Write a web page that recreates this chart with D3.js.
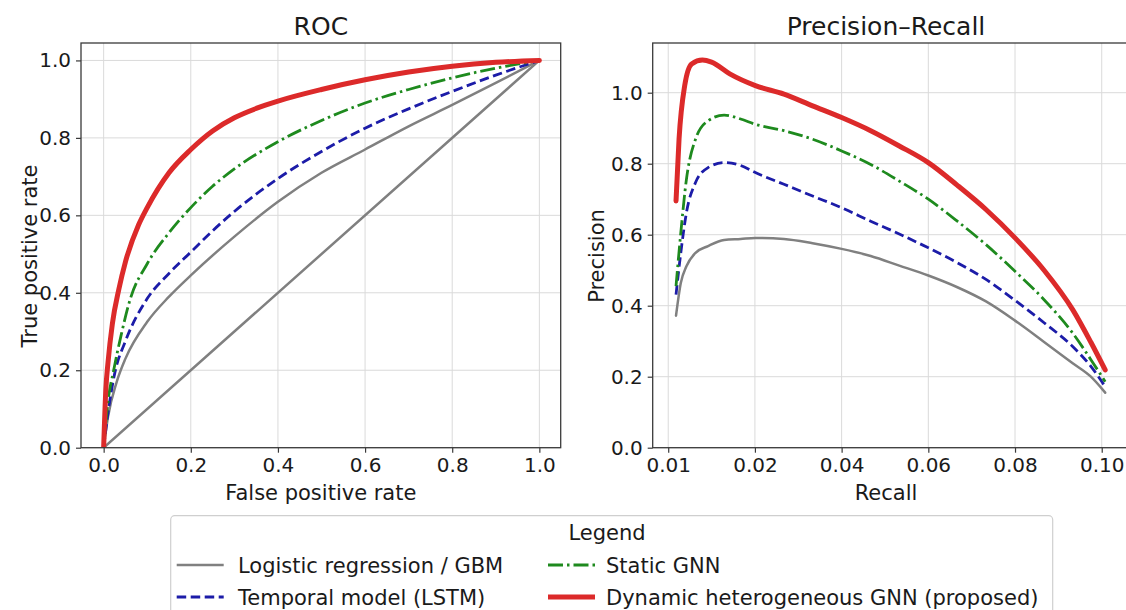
<!DOCTYPE html>
<html>
<head>
<meta charset="utf-8">
<script src="https://cdn.jsdelivr.net/npm/d3@7"></script>
<style>
  body { margin: 0; background: #fff; }
  text { font-family: "DejaVu Sans", sans-serif; fill: #1a1a1a; }
</style>
</head>
<body>
<script>
// series names (legend order)
var seriesNames = ["Logistic regression / GBM", "Temporal model (LSTM)", "Static GNN", "Dynamic heterogeneous GNN (proposed)"];

// ROC curves (false positive rate, true positive rate)
var rocGrayX = [0, 0.01, 0.03, 0.05, 0.1, 0.15, 0.2, 0.3, 0.4, 0.5, 0.6, 0.7, 0.8, 0.9, 1];
var rocGrayY = [0, 0.08, 0.17, 0.23, 0.325, 0.39, 0.445, 0.545, 0.635, 0.71, 0.77, 0.83, 0.885, 0.942, 1];
var rocBlueX = [0, 0.01, 0.025, 0.05, 0.1, 0.15, 0.2, 0.25, 0.3, 0.4, 0.5, 0.6, 0.7, 0.8, 0.9, 1];
var rocBlueY = [0, 0.09, 0.19, 0.275, 0.385, 0.45, 0.505, 0.56, 0.61, 0.695, 0.765, 0.825, 0.875, 0.92, 0.962, 1];
var rocGreenX = [0, 0.01, 0.023, 0.04, 0.06, 0.1, 0.15, 0.2, 0.25, 0.3, 0.4, 0.5, 0.6, 0.7, 0.8, 0.9, 1];
var rocGreenY = [0, 0.12, 0.2, 0.29, 0.38, 0.475, 0.555, 0.62, 0.675, 0.72, 0.79, 0.845, 0.89, 0.925, 0.955, 0.98, 1];
var rocRedX = [0, 0.005, 0.01, 0.02, 0.035, 0.05, 0.08, 0.1, 0.15, 0.2, 0.25, 0.3, 0.35, 0.4, 0.5, 0.6, 0.7, 0.8, 0.9, 1];
var rocRedY = [0, 0.15, 0.22, 0.32, 0.41, 0.48, 0.575, 0.62, 0.71, 0.77, 0.818, 0.852, 0.876, 0.895, 0.925, 0.95, 0.97, 0.985, 0.995, 1];
var rocChanceX = [0, 1];
var rocChanceY = [0, 1];

// PR curves (recall, precision)
var prX = [0.0018, 0.0029, 0.0042, 0.0063, 0.0092, 0.0129, 0.0167, 0.0201, 0.0267, 0.0333, 0.04, 0.0467, 0.0533, 0.06, 0.0667, 0.0733, 0.08, 0.0867, 0.0933, 0.0975, 0.1008];
var prGrayY = [0.372, 0.464, 0.511, 0.549, 0.568, 0.585, 0.588, 0.591, 0.588, 0.576, 0.56, 0.54, 0.513, 0.485, 0.452, 0.412, 0.358, 0.298, 0.238, 0.2, 0.155];
var prBlueY = [0.431, 0.549, 0.662, 0.747, 0.789, 0.803, 0.795, 0.775, 0.742, 0.709, 0.676, 0.638, 0.602, 0.563, 0.521, 0.474, 0.415, 0.352, 0.285, 0.229, 0.172];
var prGreenY = [0.455, 0.605, 0.756, 0.869, 0.921, 0.937, 0.926, 0.911, 0.893, 0.869, 0.836, 0.798, 0.751, 0.70, 0.638, 0.572, 0.497, 0.417, 0.323, 0.248, 0.186];
var prRedX = [0.0018, 0.0025, 0.0038, 0.0054, 0.0079, 0.01, 0.0142, 0.0201, 0.0267, 0.0333, 0.04, 0.0467, 0.0533, 0.06, 0.0667, 0.0733, 0.08, 0.0867, 0.0933, 0.0975, 0.1008];
var prRedY = [0.695, 0.87, 1.02, 1.081, 1.092, 1.086, 1.053, 1.02, 0.996, 0.963, 0.93, 0.893, 0.85, 0.803, 0.739, 0.671, 0.591, 0.5, 0.389, 0.297, 0.219];

// ticks
var rocTicks = [0, 0.2, 0.4, 0.6, 0.8, 1.0];
var prXTicks = [0, 0.02, 0.04, 0.06, 0.08, 0.10];
var prXTickLabels = ["0.01", "0.02", "0.04", "0.06", "0.08", "0.10"];
var prYTicks = [0, 0.2, 0.4, 0.6, 0.8, 1.0];

var styles = [
  {color: "#808080", width: 2.5, dash: null},
  {color: "#1c1ca8", width: 2.8, dash: "9.5,4.5"},
  {color: "#1e8a1e", width: 2.8, dash: "15,4,2.5,4"},
  {color: "#dc2a2a", width: 5, dash: null}
];

var svg = d3.select("body").append("svg")
    .attr("width", 1126)
    .attr("height", 610);

function zip(xs, ys) {
  return xs.map(function(x, i) { return [x, ys[i]]; });
}

function drawPanel(opt) {
  var x = d3.scaleLinear().domain(opt.xDomain).range([opt.left, opt.right]);
  var y = d3.scaleLinear().domain(opt.yDomain).range([opt.bottom, opt.top]);
  var g = svg.append("g");

  g.append("clipPath").attr("id", opt.id + "-clip")
    .append("rect")
      .attr("x", opt.left).attr("y", opt.top)
      .attr("width", opt.right - opt.left).attr("height", opt.bottom - opt.top);

  // grid
  g.selectAll(".vg").data(opt.xTicks).enter().append("line")
    .attr("x1", function(d) { return x(d); }).attr("x2", function(d) { return x(d); })
    .attr("y1", opt.top).attr("y2", opt.bottom)
    .style("stroke", "#dadada").style("stroke-width", 1);
  g.selectAll(".hg").data(opt.yTicks).enter().append("line")
    .attr("y1", function(d) { return y(d); }).attr("y2", function(d) { return y(d); })
    .attr("x1", opt.left).attr("x2", opt.right)
    .style("stroke", "#dadada").style("stroke-width", 1);

  // curves
  var line = d3.line()
    .x(function(d) { return x(d[0]); })
    .y(function(d) { return y(d[1]); })
    .curve(d3.curveMonotoneX);
  var plot = g.append("g").attr("clip-path", "url(#" + opt.id + "-clip)");
  opt.series.forEach(function(s) {
    var st = styles[s.style];
    plot.append("path")
      .datum(s.points)
      .attr("d", line)
      .style("fill", "none")
      .style("stroke", st.color)
      .style("stroke-width", st.width)
      .style("stroke-dasharray", st.dash)
      .style("stroke-linejoin", "round")
      .style("stroke-linecap", st.dash ? "butt" : "round");
  });

  // frame
  g.append("rect")
    .attr("x", opt.left).attr("y", opt.top)
    .attr("width", opt.right - opt.left).attr("height", opt.bottom - opt.top)
    .style("fill", "none").style("stroke", "#3a3a3a").style("stroke-width", 1.3);

  // axes
  var xAxis = d3.axisBottom(x).tickValues(opt.xTicks).tickSize(5).tickPadding(5)
    .tickFormat(function(d, i) { return opt.xLabels ? opt.xLabels[i] : d3.format(".1f")(d); });
  var gx = g.append("g").attr("transform", "translate(0," + opt.bottom + ")").call(xAxis);
  var yAxis = d3.axisLeft(y).tickValues(opt.yTicks).tickSize(5).tickPadding(5).tickFormat(d3.format(".1f"));
  var gy = g.append("g").attr("transform", "translate(" + opt.left + ",0)").call(yAxis);
  [gx, gy].forEach(function(a) {
    a.select(".domain").remove();
    a.selectAll(".tick line").style("stroke", "#3a3a3a").style("stroke-width", 1.2);
    a.selectAll(".tick text").style("font-size", "20px").style("fill", "#1a1a1a")
      .style("font-family", "DejaVu Sans, sans-serif");
  });

  var cx = (opt.left + Math.min(opt.right, 1126)) / 2;
  if (opt.titleX) cx = opt.titleX;
  g.append("text").attr("x", cx).attr("y", 35)
    .attr("text-anchor", "middle").style("font-size", "25px").text(opt.title);
  g.append("text").attr("x", cx).attr("y", 500)
    .attr("text-anchor", "middle").style("font-size", "21px").text(opt.xTitle);
  g.append("text")
    .attr("transform", "translate(" + opt.yTitleX + ",256) rotate(-90)")
    .attr("text-anchor", "middle").style("font-size", "21px").text(opt.yTitle);
}

drawPanel({
  id: "roc", left: 81, right: 560.7, top: 43, bottom: 447.7,
  xDomain: [-0.052, 1.049], yDomain: [0, 1.045],
  xTicks: rocTicks, yTicks: rocTicks,
  title: "ROC", xTitle: "False positive rate", yTitle: "True positive rate", yTitleX: 37,
  series: [
    {points: zip(rocChanceX, rocChanceY), style: 0},
    {points: zip(rocGrayX, rocGrayY), style: 0},
    {points: zip(rocBlueX, rocBlueY), style: 1},
    {points: zip(rocGreenX, rocGreenY), style: 2},
    {points: zip(rocRedX, rocRedY), style: 3}
  ]
});

drawPanel({
  id: "pr", left: 652.7, right: 1127, top: 43, bottom: 447.7,
  xDomain: [-0.00358, 0.10583], yDomain: [0, 1.14],
  xTicks: prXTicks, xLabels: prXTickLabels, yTicks: prYTicks,
  title: "Precision\u2013Recall", titleX: 886, xTitle: "Recall", yTitle: "Precision", yTitleX: 604,
  series: [
    {points: zip(prX, prGrayY), style: 0},
    {points: zip(prX, prBlueY), style: 1},
    {points: zip(prX, prGreenY), style: 2},
    {points: zip(prRedX, prRedY), style: 3}
  ]
});

// legend
var leg = svg.append("g");
leg.append("rect")
  .attr("x", 170.7).attr("y", 515.7).attr("width", 882).attr("height", 110)
  .attr("rx", 4)
  .style("fill", "#fff").style("stroke", "#cfcfcf").style("stroke-width", 1.2);
leg.append("text").attr("x", 607).attr("y", 540)
  .attr("text-anchor", "middle").style("font-size", "21px").text("Legend");

var legPos = [
  {hx: 176.7, tx: 238, y: 565},
  {hx: 176.7, tx: 238, y: 597},
  {hx: 548, tx: 606, y: 565},
  {hx: 548, tx: 606, y: 597}
];
seriesNames.forEach(function(name, i) {
  var p = legPos[i], st = styles[i];
  leg.append("line")
    .attr("x1", p.hx).attr("x2", p.hx + 47).attr("y1", p.y).attr("y2", p.y)
    .style("stroke", st.color).style("stroke-width", st.width)
    .style("stroke-dasharray", st.dash);
  leg.append("text").attr("x", p.tx).attr("y", p.y + 7.5)
    .style("font-size", "21px").text(name);
});
</script>
</body>
</html>
